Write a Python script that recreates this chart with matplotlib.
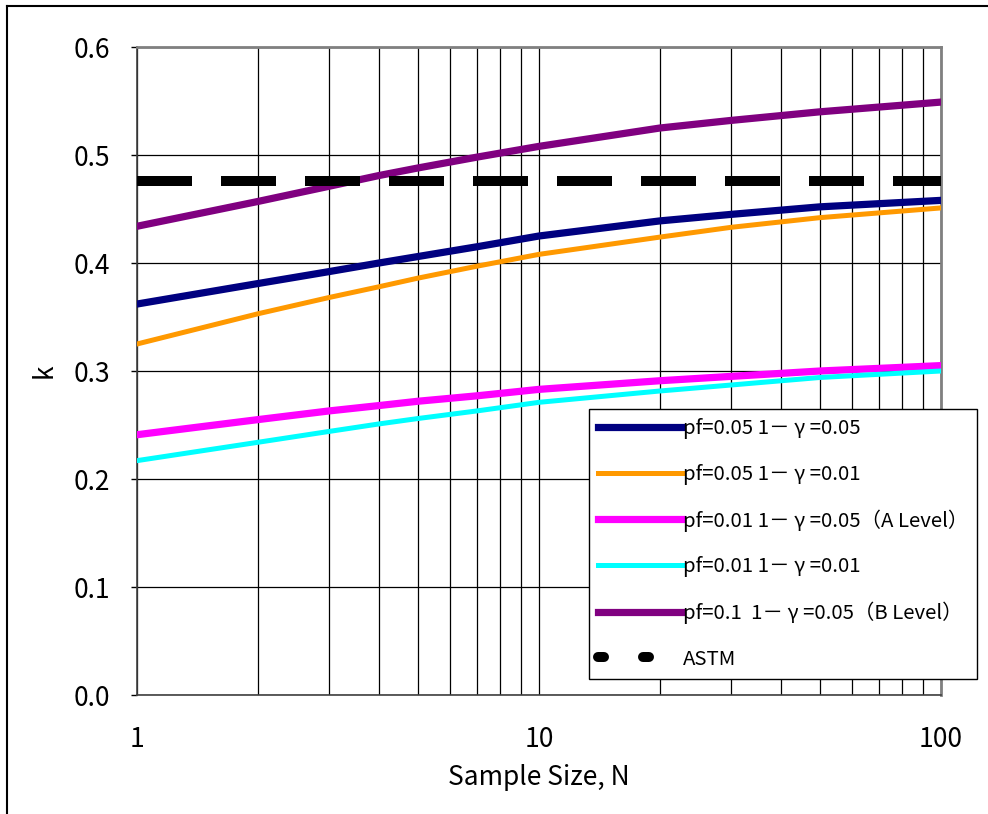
import matplotlib.pyplot as plt
from matplotlib.lines import Line2D
from matplotlib.ticker import FixedLocator, FixedFormatter, LogLocator, NullFormatter

plt.rcParams['font.family'] = ['Noto Sans CJK JP', 'DejaVu Sans']

# --- Datos ---
N = [1, 2, 3, 4, 5, 7, 10, 20, 30, 50, 100]

k_pf005_g005 = [0.362, 0.381, 0.392, 0.400, 0.406, 0.415, 0.425, 0.439, 0.445, 0.452, 0.458]
k_pf005_g001 = [0.325, 0.353, 0.368, 0.378, 0.386, 0.397, 0.408, 0.424, 0.433, 0.442, 0.451]
k_pf001_g005 = [0.241, 0.255, 0.263, 0.268, 0.272, 0.277, 0.283, 0.291, 0.295, 0.300, 0.305]
k_pf001_g001 = [0.217, 0.234, 0.244, 0.251, 0.256, 0.263, 0.271, 0.2815, 0.287, 0.294, 0.300]
k_pf01_g005 = [0.434, 0.457, 0.471, 0.481, 0.488, 0.498, 0.508, 0.525, 0.532, 0.540, 0.549]
k_astm = 0.476

etiquetas = [
    'pf=0.05 1－ γ =0.05',
    'pf=0.05 1－ γ =0.01',
    'pf=0.01 1－ γ =0.05（A Level）',
    'pf=0.01 1－ γ =0.01',
    'pf=0.1  1－ γ =0.05（B Level）',
    'ASTM',
]
y_ticks = [0.0, 0.1, 0.2, 0.3, 0.4, 0.5, 0.6]

# --- Gráfico ---
fig = plt.figure(figsize=(9.88, 8.14), dpi=100)
ax = fig.add_axes([137 / 988, 1 - 695 / 814, (941 - 137) / 988, (695 - 47) / 814])

ax.plot(N, k_pf005_g005, color='#000080', lw=5.2, zorder=3)
ax.plot(N, k_pf005_g001, color='#FF9900', lw=3.6, zorder=3)
ax.plot(N, k_pf001_g005, color='#FF00FF', lw=5.2, zorder=3)
ax.plot(N, k_pf001_g001, color='#00FFFF', lw=3.6, zorder=3)
ax.plot(N, k_pf01_g005, color='#800080', lw=5.2, zorder=3)
ax.plot([N[0], N[-1]], [k_astm, k_astm], color='black', lw=7.2,
        dashes=(5.5, 2.9), dash_capstyle='butt', zorder=3)

# leyenda: la muestra de ASTM lleva guiones más cortos, como en Excel
manijas = [Line2D([], [], color=l.get_color(), lw=l.get_linewidth()) for l in ax.lines[:5]]
manijas.append(Line2D([], [], color='black', lw=7.2, dashes=(0.6, 3.9),
                      dash_capstyle='round'))

ax.set_xscale('log')
ax.set_xlim(1, 100)
ax.set_ylim(0, 0.6)
ax.xaxis.set_major_locator(FixedLocator([1, 10, 100]))
ax.xaxis.set_major_formatter(FixedFormatter(['1', '10', '100']))
ax.xaxis.set_minor_locator(LogLocator(base=10, subs=range(2, 10)))
ax.xaxis.set_minor_formatter(NullFormatter())
ax.yaxis.set_major_locator(FixedLocator(y_ticks))
ax.yaxis.set_major_formatter(FixedFormatter([f'{v:.1f}' for v in y_ticks]))

ax.grid(True, which='both', axis='x', color='black', lw=0.9)
ax.grid(True, which='major', axis='y', color='black', lw=0.9)
ax.tick_params(axis='x', which='both', length=0, pad=22, labelsize=19)
ax.tick_params(axis='y', length=4, width=1, pad=15, labelsize=19)

for lado in ['top', 'right']:
    ax.spines[lado].set_color('#808080')
    ax.spines[lado].set_linewidth(2)
for lado in ['left', 'bottom']:
    ax.spines[lado].set_color('#404040')
    ax.spines[lado].set_linewidth(1.2)

ax.set_xlabel('Sample Size, N', fontsize=19, labelpad=8)
ax.set_ylabel('k', fontsize=19, labelpad=12)

leg = ax.legend(manijas, etiquetas, loc='lower right', bbox_to_anchor=(1.045, 0.025),
                fontsize=14.7, frameon=True, fancybox=False, edgecolor='black',
                framealpha=1, handlelength=4.1, handletextpad=0.05,
                labelspacing=1.2, borderpad=0.45, borderaxespad=0)
leg.get_frame().set_linewidth(1)
leg.set_zorder(5)

# marco del gráfico (estilo Excel)
fig.add_artist(Line2D([7 / 988, 7 / 988], [0, 1 - 6 / 814], color='black', lw=1.5))
fig.add_artist(Line2D([7 / 988, 1], [1 - 6 / 814, 1 - 6 / 814], color='black', lw=1.5))

fig.savefig('out.png', dpi=100)
